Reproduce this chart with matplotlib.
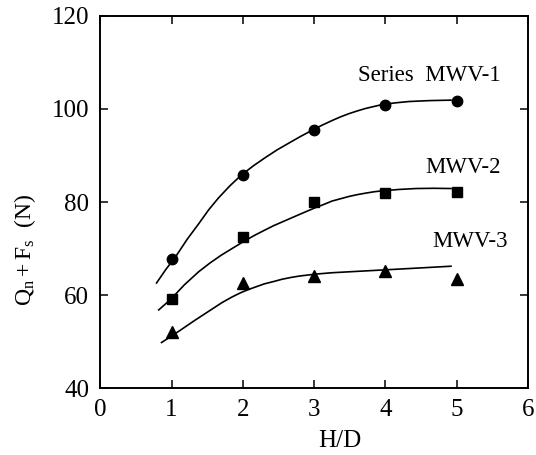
import matplotlib
matplotlib.use("Agg")
import matplotlib.pyplot as plt

# measured points (H/D vs Qn+Fs)
hd = [1, 2, 3, 4, 5]
mwv1 = [67.8, 85.9, 95.4, 100.8, 101.7]
mwv2 = [59.2, 72.4, 80.0, 82.0, 82.2]
mwv3 = [52.0, 62.5, 64.1, 65.2, 63.5]

# trend curves
fit1_x = [0.79, 0.92, 1.06, 1.22, 1.38, 1.52, 1.66, 1.82, 1.98, 2.15, 2.32, 2.48, 2.65,
          2.81, 2.97, 3.11, 3.25, 3.37, 3.49, 3.61, 3.72, 3.83, 3.94, 4.13, 4.33, 4.62, 4.92]
fit1_y = [62.6, 65.5, 68.3, 72.0, 75.3, 78.3, 80.9, 83.5, 85.8, 87.8, 89.6, 91.2, 92.7,
          94.1, 95.4, 96.5, 97.5, 98.3, 99.0, 99.6, 100.1, 100.5, 100.9, 101.3, 101.6, 101.8, 101.9]
fit2_x = [0.82, 0.99, 1.18, 1.38, 1.54, 1.70, 1.86, 2.01, 2.16, 2.30, 2.43, 2.55, 2.79,
          3.02, 3.14, 3.25, 3.37, 3.49, 3.61, 3.72, 3.84, 3.95, 4.19, 4.43, 4.68, 4.92]
fit2_y = [56.8, 59.1, 62.2, 65.0, 66.9, 68.6, 70.1, 71.5, 72.8, 73.9, 74.9, 75.7, 77.3,
          78.8, 79.5, 80.2, 80.7, 81.2, 81.6, 81.9, 82.2, 82.4, 82.7, 82.9, 82.95, 82.9]
fit3_x = [0.86, 0.98, 1.10, 1.33, 1.56, 1.71, 1.85, 1.97, 2.08, 2.19, 2.30, 2.43, 2.55,
          2.68, 2.80, 2.91, 3.02, 3.25, 3.49, 3.73, 3.97, 4.45, 4.92]
fit3_y = [49.8, 51.0, 52.2, 54.6, 56.9, 58.4, 59.6, 60.5, 61.2, 61.8, 62.4, 62.9, 63.4,
          63.8, 64.1, 64.3, 64.5, 64.8, 65.0, 65.2, 65.4, 65.8, 66.2]

plt.rcParams["font.family"] = ["Liberation Serif", "DejaVu Serif"]
plt.rcParams["mathtext.fontset"] = "stix"

fig = plt.figure(figsize=(5.36, 4.55), dpi=100)
ax = fig.add_axes([0.187, 0.147, 0.798, 0.818])

lw = 1.2
ax.plot(fit1_x, fit1_y, color="black", linewidth=lw)
ax.plot(fit2_x, fit2_y, color="black", linewidth=lw)
ax.plot(fit3_x, fit3_y, color="black", linewidth=lw)
ax.plot(hd, mwv1, linestyle="none", marker="o", markersize=7.5, color="black")
ax.plot(hd, mwv2, linestyle="none", marker="s", markersize=7, color="black")
ax.plot(hd, mwv3, linestyle="none", marker="^", markersize=8.5, color="black")

ax.text(5.62, 107.2, "Series  MWV-1", fontsize=16.5, ha="right", va="center")
ax.text(5.62, 87.4, "MWV-2", fontsize=16.5, ha="right", va="center")
ax.text(5.72, 71.6, "MWV-3", fontsize=16.5, ha="right", va="center")

ax.set_xlim(0, 6)
ax.set_ylim(40, 120)
ax.set_xticks([0, 1, 2, 3, 4, 5, 6])
ax.set_yticks([40, 60, 80, 100, 120])
ax.tick_params(direction="in", top=True, right=True, length=6, width=1.1,
               labelsize=18, pad=8)
for s in ax.spines.values():
    s.set_linewidth(1.4)

ax.set_xlabel("H/D", fontsize=18, va="top")
ax.xaxis.set_label_coords(0.56, -0.112)
ax.set_ylabel(r"$\mathregular{Q_n + F_s}$  (N)", fontsize=17)
ax.yaxis.set_label_coords(-0.145, 0.37)

fig.savefig("out.png", dpi=100)
